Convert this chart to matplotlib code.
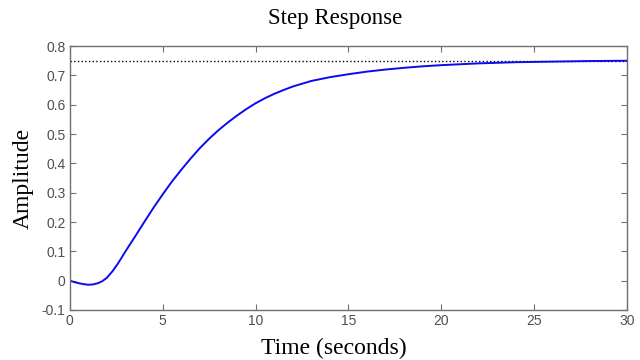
from matplotlib import pyplot as plt
from matplotlib.ticker import FormatStrFormatter
import numpy as np

# step response samples (time in s, amplitude)
t = [0, 0.25, 0.5, 0.75, 1.0, 1.25, 1.5, 1.75, 2.0, 2.3, 2.6, 3.0, 3.5,
     4.0, 4.5, 5.0, 5.5, 6.0, 6.5, 7.0, 7.5, 8.0, 8.5, 9.0, 9.5, 10,
     10.5, 11, 11.5, 12, 13, 14, 15, 16, 17, 18, 19, 20, 21, 22, 24,
     26, 28, 30]
y = [0, -0.005, -0.009, -0.012, -0.014, -0.013, -0.009, -0.002, 0.010,
     0.032, 0.059, 0.100, 0.149, 0.199, 0.248, 0.294, 0.338, 0.378,
     0.416, 0.452, 0.484, 0.513, 0.539, 0.563, 0.585, 0.605, 0.622,
     0.637, 0.650, 0.662, 0.681, 0.694, 0.704, 0.713, 0.720, 0.726,
     0.731, 0.735, 0.738, 0.741, 0.745, 0.747, 0.749, 0.750]
y_final = 0.75

xticks = [0, 5, 10, 15, 20, 25, 30]
yticks = [-0.1, 0, 0.1, 0.2, 0.3, 0.4, 0.5, 0.6, 0.7, 0.8]

#%%

fig = plt.figure(figsize=(6.4, 3.6), dpi=100)
ax = fig.add_axes([0.109, 0.139, 0.871, 0.733])

ax.plot([0, 30], [y_final, y_final], ':', color='k', lw=1.0)
ax.plot(t, y, '-', color='#0a0af0', lw=1.4)

ax.set_xlim(0, 30)
ax.set_ylim(-0.1, 0.8)
ax.set_xticks(xticks)
ax.set_yticks(yticks)
ax.yaxis.set_major_formatter(FormatStrFormatter('%g'))

grey = '#707070'
for s in ax.spines.values():
    s.set_color(grey)
    s.set_linewidth(1.0)
ax.tick_params(direction='in', length=4, width=0.8, color=grey,
               top=True, right=True, labelcolor='#505050', labelsize=10,
               pad=3)
for lbl in ax.get_xticklabels() + ax.get_yticklabels():
    lbl.set_family('Liberation Sans')

serif = 'Liberation Serif'
fig.text(0.524, 0.948, 'Step Response', ha='center', va='center',
         family=serif, fontsize=16.5)
ax.set_xlabel('Time (seconds)', family=serif, fontsize=17)
ax.xaxis.set_label_coords(0.474, -0.105)
ax.set_ylabel('Amplitude', family=serif, fontsize=17, labelpad=6)

plt.savefig('out.png', dpi=100)
